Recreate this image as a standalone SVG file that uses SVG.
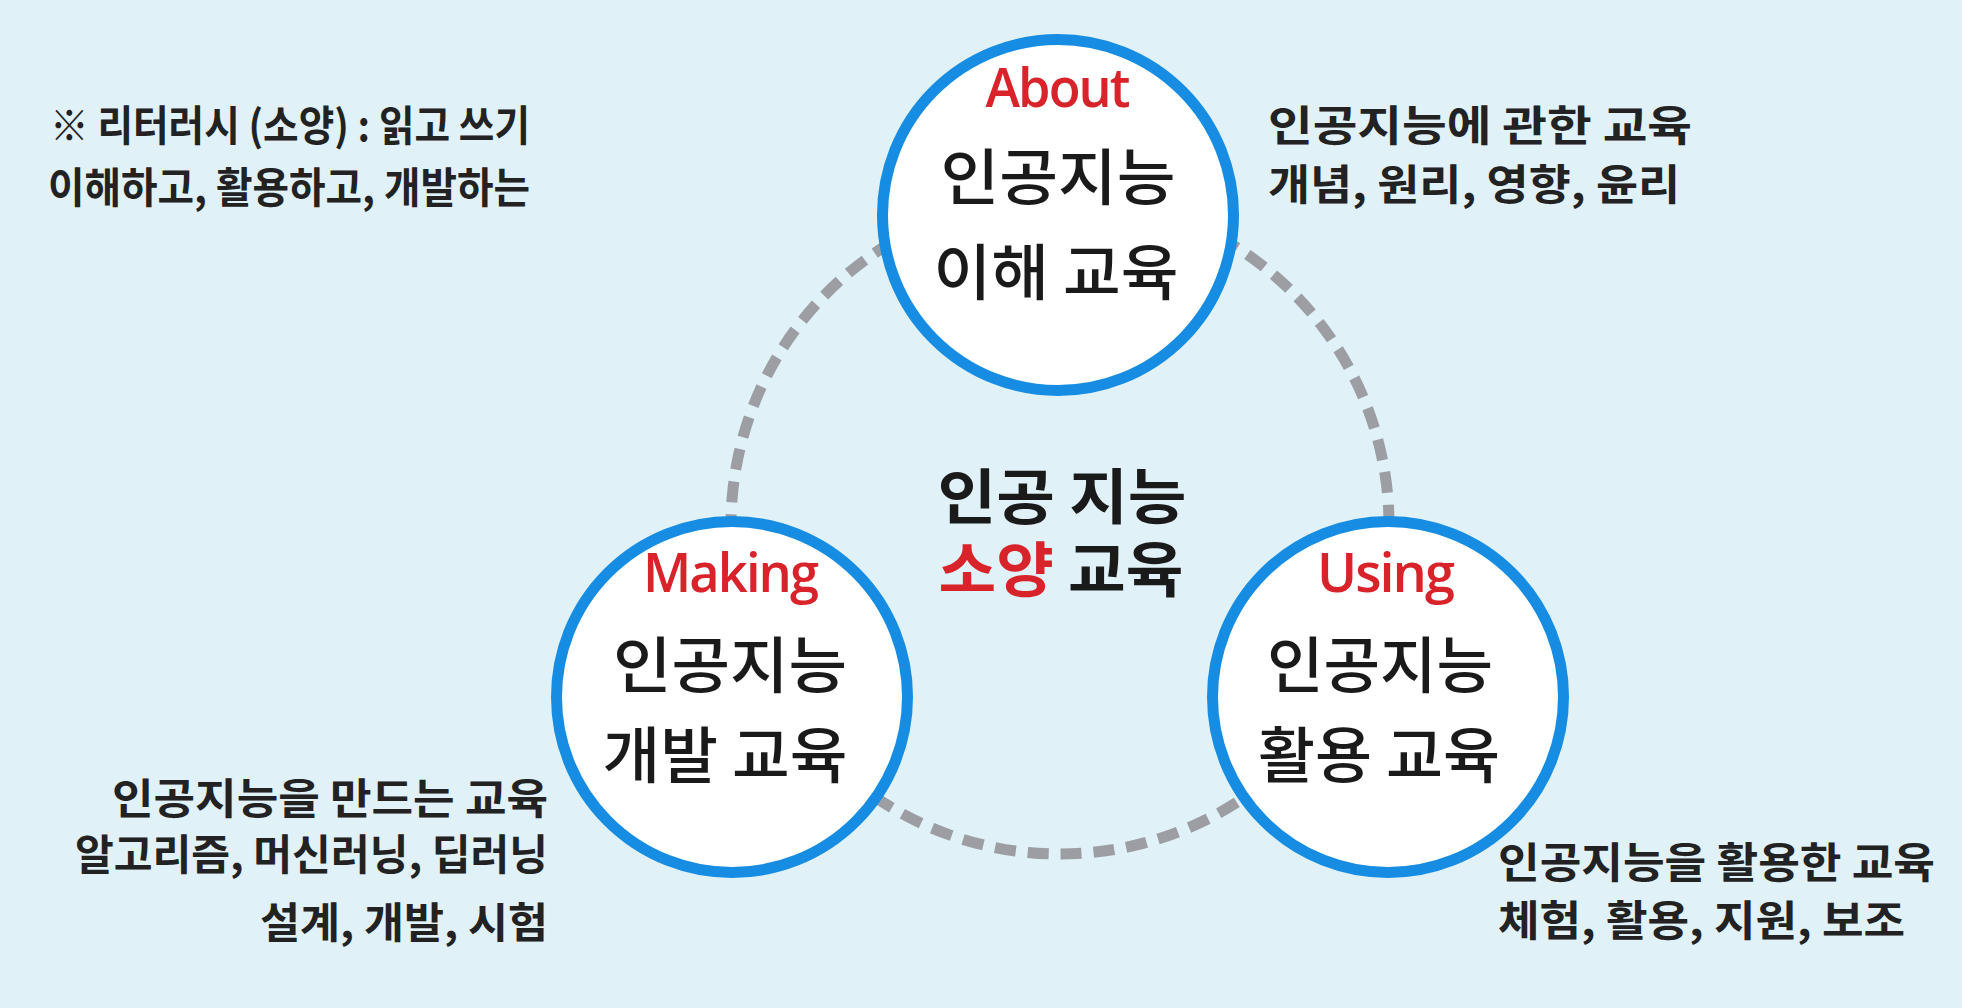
<svg xmlns="http://www.w3.org/2000/svg" width="1962" height="1008" viewBox="0 0 1962 1008">
<style>
.bg{fill:#e0f1f8}
.ring{fill:none;stroke:#9c9ea4;stroke-width:11;stroke-dasharray:21 12}
.node{fill:#ffffff;stroke:#168de2;stroke-width:11}
.en{font-family:"Open Sans","Liberation Sans",sans-serif;font-weight:600;font-size:54px;fill:#d8232a;text-anchor:middle;letter-spacing:-2px}
.ko{font-family:"Noto Sans CJK KR","Noto Sans",sans-serif;font-weight:500;font-size:61px;fill:#1a1a1a;text-anchor:middle}
.ctr{font-family:"Noto Sans CJK KR","Noto Sans",sans-serif;font-weight:700;font-size:60px;fill:#1a1a1a;text-anchor:middle}
.red{fill:#d8232a}
.note{font-family:"Noto Sans CJK KR","Noto Sans",sans-serif;font-weight:700;font-size:42px;fill:#222222}
.end{text-anchor:end}
</style>
<rect class="bg" x="0" y="0" width="1962" height="1008"/>
<g id="connectors">
<circle class="ring" cx="1060" cy="525" r="329"/>
</g>
<g id="center-label">
<text class="ctr"><tspan x="1062" y="519" textLength="249" lengthAdjust="spacingAndGlyphs">인공 지능</tspan><tspan x="1061" y="592" textLength="245" lengthAdjust="spacingAndGlyphs"><tspan class="red">소양</tspan> 교육</tspan></text>
</g>
<g id="node-about">
<circle class="node" cx="1058" cy="215" r="175.5"/>
<text class="en" x="1057" y="107" textLength="143" lengthAdjust="spacingAndGlyphs">About</text>
<text class="ko" x="1058" y="200" textLength="235" lengthAdjust="spacingAndGlyphs">인공지능</text>
<text class="ko" x="1056" y="295" textLength="245" lengthAdjust="spacingAndGlyphs">이해 교육</text>
</g>
<g id="node-making">
<circle class="node" cx="732" cy="697" r="175.5"/>
<text class="en" x="730" y="592" textLength="174" lengthAdjust="spacingAndGlyphs">Making</text>
<text class="ko" x="730" y="688" textLength="234" lengthAdjust="spacingAndGlyphs">인공지능</text>
<text class="ko" x="725" y="778" textLength="245" lengthAdjust="spacingAndGlyphs">개발 교육</text>
</g>
<g id="node-using">
<circle class="node" cx="1388" cy="697" r="175.5"/>
<text class="en" x="1385" y="592" textLength="136" lengthAdjust="spacingAndGlyphs">Using</text>
<text class="ko" x="1380" y="688" textLength="226" lengthAdjust="spacingAndGlyphs">인공지능</text>
<text class="ko" x="1379" y="778" textLength="242" lengthAdjust="spacingAndGlyphs">활용 교육</text>
</g>
<g id="note-literacy">
<text class="note" x="50" y="141" textLength="480" lengthAdjust="spacingAndGlyphs">※ 리터러시 (소양) : 읽고 쓰기</text>
<text class="note" x="48" y="203" textLength="482" lengthAdjust="spacingAndGlyphs">이해하고, 활용하고, 개발하는</text>
</g>
<g id="note-about">
<text class="note" x="1268" y="141" textLength="424" lengthAdjust="spacingAndGlyphs">인공지능에 관한 교육</text>
<text class="note" x="1268" y="200" textLength="412" lengthAdjust="spacingAndGlyphs">개념, 원리, 영향, 윤리</text>
</g>
<g id="note-making">
<text class="note end" x="548" y="814" textLength="436" lengthAdjust="spacingAndGlyphs">인공지능을 만드는 교육</text>
<text class="note end" x="548" y="870" textLength="473" lengthAdjust="spacingAndGlyphs">알고리즘, 머신러닝, 딥러닝</text>
<text class="note end" x="548" y="938" textLength="288" lengthAdjust="spacingAndGlyphs">설계, 개발, 시험</text>
</g>
<g id="note-using">
<text class="note" x="1498" y="878" textLength="437" lengthAdjust="spacingAndGlyphs">인공지능을 활용한 교육</text>
<text class="note" x="1498" y="936" textLength="407" lengthAdjust="spacingAndGlyphs">체험, 활용, 지원, 보조</text>
</g>
</svg>
